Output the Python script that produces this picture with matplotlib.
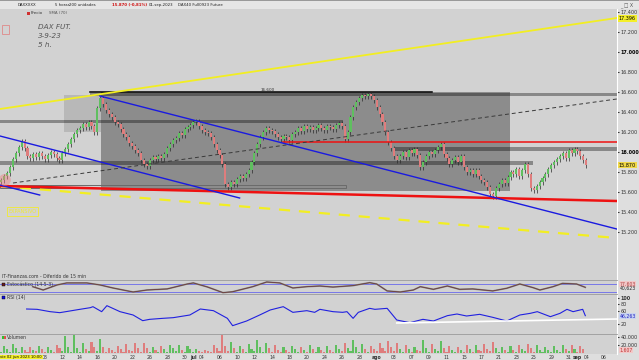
import matplotlib
matplotlib.use('Agg')
import matplotlib.pyplot as plt
import matplotlib.transforms as mtrans
from matplotlib.patches import Rectangle, Ellipse

# ---- data ----
# 5h candles, 3 per trading day, day 0 = vie 02 jun 2023, first bar on 01 jun
closes = [
    15720, 15760, 15790,   # 01 jun
    15850, 15930, 15990,   # 02 jun
    16050, 16110, 16040,
    15960, 15940, 15980,
    15950, 15990, 15960,
    15930, 15970, 16000,
    15980, 15940, 15920,
    15990, 16030, 16080,
    16130, 16180, 16220,
    16240, 16280, 16250,
    16300, 16260, 16200,
    16440, 16540, 16480,   # 16 jun
    16420, 16380, 16350,
    16300, 16280, 16230,
    16180, 16150, 16090,
    16060, 16020, 15990,
    15920, 15880, 15860,
    15920, 15950, 15930,
    15960, 15940, 15980,
    16040, 16080, 16120,
    16140, 16190, 16170,
    16230, 16250, 16270,
    16300, 16310, 16260,   # 03 jul
    16220, 16200, 16190,
    16150, 16080, 16020,
    15970, 15880, 15680,
    15650, 15700, 15680,
    15730, 15760, 15740,
    15780, 15820, 15900,
    15990, 16080, 16150,
    16200, 16240, 16220,
    16210, 16180, 16150,
    16130, 16160, 16150,
    16120, 16180, 16200,
    16240, 16210, 16260,
    16230, 16250, 16220,
    16240, 16270, 16240,
    16220, 16260, 16250,
    16230, 16270, 16290,
    16260, 16130, 16200,
    16350, 16450, 16500,
    16540, 16570, 16560,
    16580, 16560, 16520,   # 31 jul
    16450, 16380, 16300,
    16200, 16100, 16040,
    15960, 15920, 15960,
    16000, 15950, 16020,
    15990, 16030, 15970,
    15850, 15900, 15960,
    16000, 15980, 16020,
    16050, 16080, 15980,
    15940, 15880, 15920,
    15950, 15900, 15960,
    15850, 15800, 15820,
    15780, 15820, 15760,
    15720, 15700, 15650,
    15580, 15560, 15640,   # 18 ago
    15680, 15720, 15690,
    15750, 15800, 15780,
    15830, 15760, 15820,
    15880, 15780, 15640,
    15620, 15660, 15700,
    15740, 15780, 15830,
    15870, 15900, 15930,
    15960, 15990, 15940,
    16020, 15990, 16030,
    16010, 15960, 15920,   # 01 sep
    15870,                 # 04 sep
]
firstOpen = 15700

volumes = [  # thousands of contracts
    4, 18, 10, 3, 22, 12, 4, 16, 9, 3, 14, 8, 5, 17, 11, 3, 15, 9, 4, 20, 12,
    5, 42, 14, 3, 44, 13, 4, 25, 10, 5, 28, 16, 6, 35, 14, 3, 12, 8, 4, 18, 11,
    3, 22, 9, 5, 24, 13, 4, 26, 12, 3, 14, 8, 4, 17, 10, 3, 19, 12, 5, 21, 9,
    4, 18, 11, 2, 10, 6, 3, 9, 5, 4, 20, 12, 6, 44, 18, 5, 28, 12, 3, 18, 10,
    4, 22, 11, 5, 32, 14, 4, 24, 12, 3, 20, 9, 3, 15, 8, 4, 18, 10, 3, 16, 9,
    4, 19, 11, 3, 14, 8, 3, 17, 9, 4, 20, 10, 5, 26, 12, 6, 32, 15, 4, 22, 11,
    3, 18, 10, 5, 24, 12, 6, 30, 14, 5, 26, 11, 4, 20, 10, 3, 14, 8, 5, 31, 12,
    4, 22, 10, 5, 30, 12, 4, 18, 9, 3, 14, 8, 4, 21, 10, 4, 19, 9, 5, 23, 11,
    6, 27, 13, 3, 16, 8, 4, 18, 9, 4, 20, 10, 5, 22, 12, 4, 19, 9, 3, 15, 8,
    4, 17, 9, 4, 19, 10, 5, 21, 11, 4, 18, 10, 1.6,
]

stochDays = [2.6, 3.8, 5.4, 6.5, 8.8, 10.3, 11.8, 14.1, 15.7, 18.0, 20.3, 21.0,
             22.6, 24.4, 25.5, 27.8, 29.4, 30.9, 32.4, 34.0, 35.5, 37.0, 39.3,
             41.2, 42.0, 43.2, 44.7, 46.2, 47.0, 48.5, 50.1, 51.5, 53.0, 55.3,
             56.9, 58.4, 59.9, 60.7, 62.2, 63.3, 64.9, 65.9]
stochVals = [60, 35, 73, 88, 88, 73, 50, 20, 35, 43, 80, 88, 58, 15, 22, 60,
             95, 88, 50, 60, 65, 57, 68, 90, 80, 28, 20, 35, 60, 40, 65, 40,
             43, 28, 48, 80, 53, 35, 60, 85, 80, 55]

rsiDays = [1.9, 3.1, 4.6, 5.7, 8.0, 9.2, 9.5, 10.5, 11.1, 12.6, 14.1, 15.2,
           16.0, 17.5, 18.7, 20.6, 21.8, 23.3, 24.9, 25.5, 27.1, 28.6, 29.8,
           31.3, 32.4, 34.0, 34.9, 35.5, 37.0, 38.1, 38.6, 39.3, 39.9, 41.2,
           41.8, 43.2, 44.3, 45.8, 47.3, 48.5, 50.1, 51.2, 52.3, 53.8, 55.3,
           56.9, 58.4, 59.6, 60.4, 61.9, 63.0, 63.8, 64.5, 65.6, 65.9]
rsiVals = [66, 65, 58, 55, 65, 70, 73, 58, 76, 58, 48, 31, 35, 38, 40, 48,
           66, 61, 38, 16, 30, 48, 63, 73, 56, 61, 56, 65, 58, 56, 58, 38,
           56, 68, 65, 68, 33, 25, 35, 30, 46, 51, 45, 50, 41, 30, 48, 53,
           58, 43, 53, 65, 58, 65, 46]

# drawing tools on the price panel: ([day, day], [price, price])
yellowLine = ([-1.15, 69.5], [16430, 17340])
yellowDash = ([-1.15, 69.5], [15660, 15140])
redLow = ([-1.15, 69.5], [15660, 15510])
redHigh = ([31.3, 69.5], [16105, 16105])
blueUpper = ([-1.15, 26.3], [16160, 15540])
blueShort = ([-1.15, 3.4], [15670, 15570])
blueLong = ([10.3, 69.5], [16560, 15230])
blackDash = ([0.34, 69.5], [15690, 16530])
rsiTrend = ([44.3, 69.5], [24, 36])

# shaded zones: (day0, day1, price0, price1)
bigZone = (10.4, 57.3, 15610, 16600)
lightZone = (6.2, 10.4, 16200, 16570)
bands = [(9.2, 69.5, 16560, 16590), (-1.15, 38.1, 16290, 16320),
         (-1.15, 59.9, 15870, 15910), (44.1, 69.5, 16010, 16050)]

priceTicks = list(range(15200, 17401, 200))
dateTickDays = [4, 6, 8, 10, 12, 14, 16, 18, 20, 21, 22, 24, 26, 28, 30, 32,
                34, 36, 38, 40, 42, 44, 46, 48, 50, 52, 54, 56, 58, 60, 62, 64,
                65, 66, 68]
dateTickLabels = ['08', '12', '14', '16', '20', '22', '26', '28', '30', 'jul',
                  '04', '06', '10', '12', '14', '18', '20', '24', '26', '28',
                  'ago', '03', '07', '09', '11', '15', '17', '21', '23', '25',
                  '29', '31', 'sep', '04', '06']

# ---- figure ----
W, H = 639, 360
X0, X1 = -10 / 8.73, 607 / 8.73
bg = '#d2d2d2'


def pxBox(x0, y0, x1, y1):
    return [x0 / W, 1 - y1 / H, (x1 - x0) / W, (y1 - y0) / H]


def fx(px):
    return px / W


def fy(py):
    return 1 - py / H


def dots(v):
    return '{:,}'.format(v).replace(',', '.')


def style(a, ylo, yhi):
    a.set_facecolor(bg)
    a.set_xlim(X0, X1)
    a.set_ylim(ylo, yhi)
    for s in ['left', 'bottom']:
        a.spines[s].set_visible(False)
    a.spines['top'].set_color('#9a9a9a')
    a.spines['top'].set_linewidth(0.6)
    a.spines['right'].set_color('white')
    a.spines['right'].set_linewidth(0.8)
    a.yaxis.tick_right()
    a.tick_params(axis='y', labelsize=3.5, length=1.5, pad=1.0, colors='#333333')
    a.set_xticks([])


def figBox(x, y, w, h, **kw):
    fig.patches.append(Rectangle((fx(x), fy(y + h)), w / W, h / H,
                                 transform=fig.transFigure, **kw))


fig = plt.figure(figsize=(6.39, 3.6), dpi=100, facecolor='#dedede')

ax = fig.add_axes(pxBox(0, 9, 617, 280))
style(ax, 14720, 17430)
ax.spines['top'].set_visible(False)
ax.set_yticks(priceTicks)
ax.set_yticklabels([dots(v) for v in priceTicks])
for lab, v in zip(ax.get_yticklabels(), priceTicks):
    if v in (16000, 17000):
        lab.set_fontweight('bold')
        lab.set_color('black')

# zones
z = bigZone
ax.add_patch(Rectangle((z[0], z[2]), z[1] - z[0], z[3] - z[2], color='black',
                       alpha=0.33, lw=0, zorder=1))
z = lightZone
ax.add_patch(Rectangle((z[0], z[2]), z[1] - z[0], z[3] - z[2], color='black',
                       alpha=0.12, lw=0, zorder=1))
for b in bands:
    ax.add_patch(Rectangle((b[0], b[2]), b[1] - b[0], b[3] - b[2], color='black',
                           alpha=0.35, lw=0, zorder=1))
ax.add_patch(Rectangle((-1.15, 15640), 39.6, 30, fill=False, ec='#6a6a6a',
                       lw=0.7, zorder=1))
ax.plot([9.2, 48.3], [16600, 16600], color='black', lw=1.1, zorder=2)
ax.text(28.7, 16615, '16.600', fontsize=3, color='#333333', zorder=2)

# candles
opens = [firstOpen] + closes[:-1]
xs = [-1 + i / 3 for i in range(len(closes))]
ups = [c >= o for o, c in zip(opens, closes)]
highs = [max(o, c) + 25 for o, c in zip(opens, closes)]
lows = [min(o, c) - 25 for o, c in zip(opens, closes)]
cols = ['#5fbf5f' if u else '#df7d7d' for u in ups]
ax.vlines(xs, lows, highs, color='#2b2b2b', lw=0.5, zorder=3)
ax.bar(xs, [c - o if c != o else 4 for o, c in zip(opens, closes)],
       bottom=opens, width=0.24, color=cols, lw=0, zorder=4)

# trend lines
ax.plot(*yellowLine, color='#f2ee22', lw=1.3, zorder=5)
ax.plot(*yellowDash, color='#f2ee22', lw=1.6, ls=(0, (5, 4)), zorder=5)
ax.plot(*redLow, color='#ee1111', lw=1.8, zorder=5)
ax.plot(*redHigh, color='#ee1111', lw=1.1, zorder=5)
ax.plot(*blueUpper, color='#1a1ae0', lw=1.0, zorder=5)
ax.plot(*blueShort, color='#1a1ae0', lw=1.0, zorder=5)
ax.plot(*blueLong, color='#1a1ae0', lw=1.0, zorder=5)
ax.plot(*blackDash, color='#3a3a3a', lw=0.7, ls=(0, (4, 3)), zorder=5)
ax.add_patch(Ellipse((-0.6, 15720), 1.4, 120, color='#f08080', alpha=0.45,
                     lw=0, zorder=5))

# price highlights on the axis
tr = mtrans.blended_transform_factory(ax.transAxes, ax.transData)
ax.text(1.003, 17335, '17.396', transform=tr, fontsize=3.5, va='center',
        bbox=dict(fc='#f4ef2a', ec='none', pad=0.5), zorder=6)
ax.text(1.003, 15870, '15.870', transform=tr, fontsize=3.5, va='center',
        bbox=dict(fc='#f0d848', ec='none', pad=0.5), zorder=6)

# notes on the chart
for yy, t in zip([27, 36, 45], ['DAX FUT.', '3-9-23', '5 h.']):
    fig.text(fx(38), fy(yy), t, fontsize=5.2, style='italic', color='#555555',
             va='center')
figBox(2, 25, 7, 9, fill=False, ec='#e08a8a', lw=0.6)
fig.text(fx(22.5), fy(211.5), 'EXPANSIVO', fontsize=3.6, color='#f2ea30',
         ha='center', va='center',
         bbox=dict(fc='none', ec='#f2ea30', lw=0.6, pad=1.2))
fig.text(fx(2), fy(277), 'IT-Finanzas.com - Diferido de 15 min', fontsize=3.3,
         color='#333333', va='center')

# ---- stochastic ----
axS = fig.add_axes(pxBox(0, 280, 617, 294))
style(axS, 5, 110)
axS.set_yticks([])
axS.axhline(80, color='#7878e8', lw=0.7)
axS.axhline(20, color='#7878e8', lw=0.7)
axS.plot(stochDays, stochVals, color='#8a8a8a', lw=1.2)
axS.plot(stochDays, stochVals, color='#6a3a3a', lw=0.6)
trS = mtrans.blended_transform_factory(axS.transAxes, axS.transData)
axS.text(1.004, 80, '77,603', transform=trS, fontsize=3.3, va='center',
         color='#b04040', bbox=dict(fc='#f2c8c8', ec='none', pad=0.4))
axS.text(1.004, 46, '40,623', transform=trS, fontsize=3.3, va='center',
         color='#222222')
figBox(2, 283, 3, 3, fc='#6a2020', ec='black', lw=0.3)
fig.text(fx(7), fy(284.5), 'Estocástico (14-5-3)', fontsize=3.3,
         color='#333333', va='center')

# ---- RSI ----
axR = fig.add_axes(pxBox(0, 294, 617, 334))
style(axR, -9, 111)
axR.set_yticks([100, 80, 60, 20])
axR.set_yticklabels(['100', '80', '60', '20'])
axR.get_yticklabels()[0].set_fontweight('bold')
axR.plot(rsiDays, rsiVals, color='#2020e0', lw=0.8)
axR.plot(*rsiTrend, color='white', lw=1.2)
trR = mtrans.blended_transform_factory(axR.transAxes, axR.transData)
axR.text(1.004, 44, '46,263', transform=trR, fontsize=3.3, va='center',
         color='#2020c0', bbox=dict(fc='#c8d4f0', ec='none', pad=0.4))
figBox(2, 296, 3, 3, fc='#1010e0', ec='black', lw=0.3)
fig.text(fx(7), fy(297.5), 'RSI (14)', fontsize=3.3, color='#333333',
         va='center')

# ---- volume ----
axV = fig.add_axes(pxBox(0, 334, 617, 354))
style(axV, -1.7, 46.5)
axV.set_yticks([40, 20])
axV.set_yticklabels(['40.000', '20.000'])
axV.bar(xs, volumes, width=0.24, color=cols, lw=0)
trV = mtrans.blended_transform_factory(axV.transAxes, axV.transData)
axV.text(1.004, 7, '1.607', transform=trV, fontsize=3.3, va='center',
         color='#c03030', bbox=dict(fc='#f2c8c8', ec='none', pad=0.4))
figBox(2, 336, 2, 3, fc='#30c030', lw=0)
figBox(4, 336, 2, 3, fc='#e05050', lw=0)
fig.text(fx(7), fy(337.5), 'Volumen', fontsize=3.3, color='#333333',
         va='center')

# date axis
axV.set_xticks(dateTickDays)
axV.set_xticklabels(dateTickLabels)
axV.tick_params(axis='x', labelsize=3.3, length=0, pad=0.4, colors='#333333')
for lab in axV.get_xticklabels():
    if lab.get_text() in ('jul', 'ago', 'sep'):
        lab.set_fontweight('bold')
fig.text(fx(0.5), fy(357), 'vie 02 jun 2023 10:00', fontsize=2.7, va='center',
         bbox=dict(fc='#f4ef2a', ec='none', pad=0.3))

# ---- toolbar ----
figBox(0, 0, W, 8.5, fc='#e6e6e6', ec='none', zorder=0)
figBox(0, 0, W, 1, fc='#9a9a9a', ec='none', zorder=0)
tb = [(18, 'DAXXXXX', '#222222'), (55, '5 horas', '#222222'),
      (69, '200 unidades', '#222222'), (112, '15.870 (-0,81%)', '#d01010'),
      (149, '01-sep-2023', '#222222'), (178, 'DAX40 Full0923 Future', '#222222')]
for xx, t, c in tb:
    fig.text(fx(xx), fy(5), t, fontsize=2.8, color=c, va='center',
             fontweight='bold' if c == '#d01010' else 'normal')
fig.text(fx(31), fy(13), 'Precio', fontsize=2.9, color='#333333', va='center')
fig.text(fx(49), fy(13), 'SMA (70)', fontsize=2.9, color='#555555', va='center')
figBox(27, 11.5, 3, 3, fc='#d03030', lw=0)
fig.text(fx(620), fy(5), '_ \u25a1 X', fontsize=3.4, color='#555555',
         va='center')

fig.savefig('out.png', dpi=100, facecolor=fig.get_facecolor())
